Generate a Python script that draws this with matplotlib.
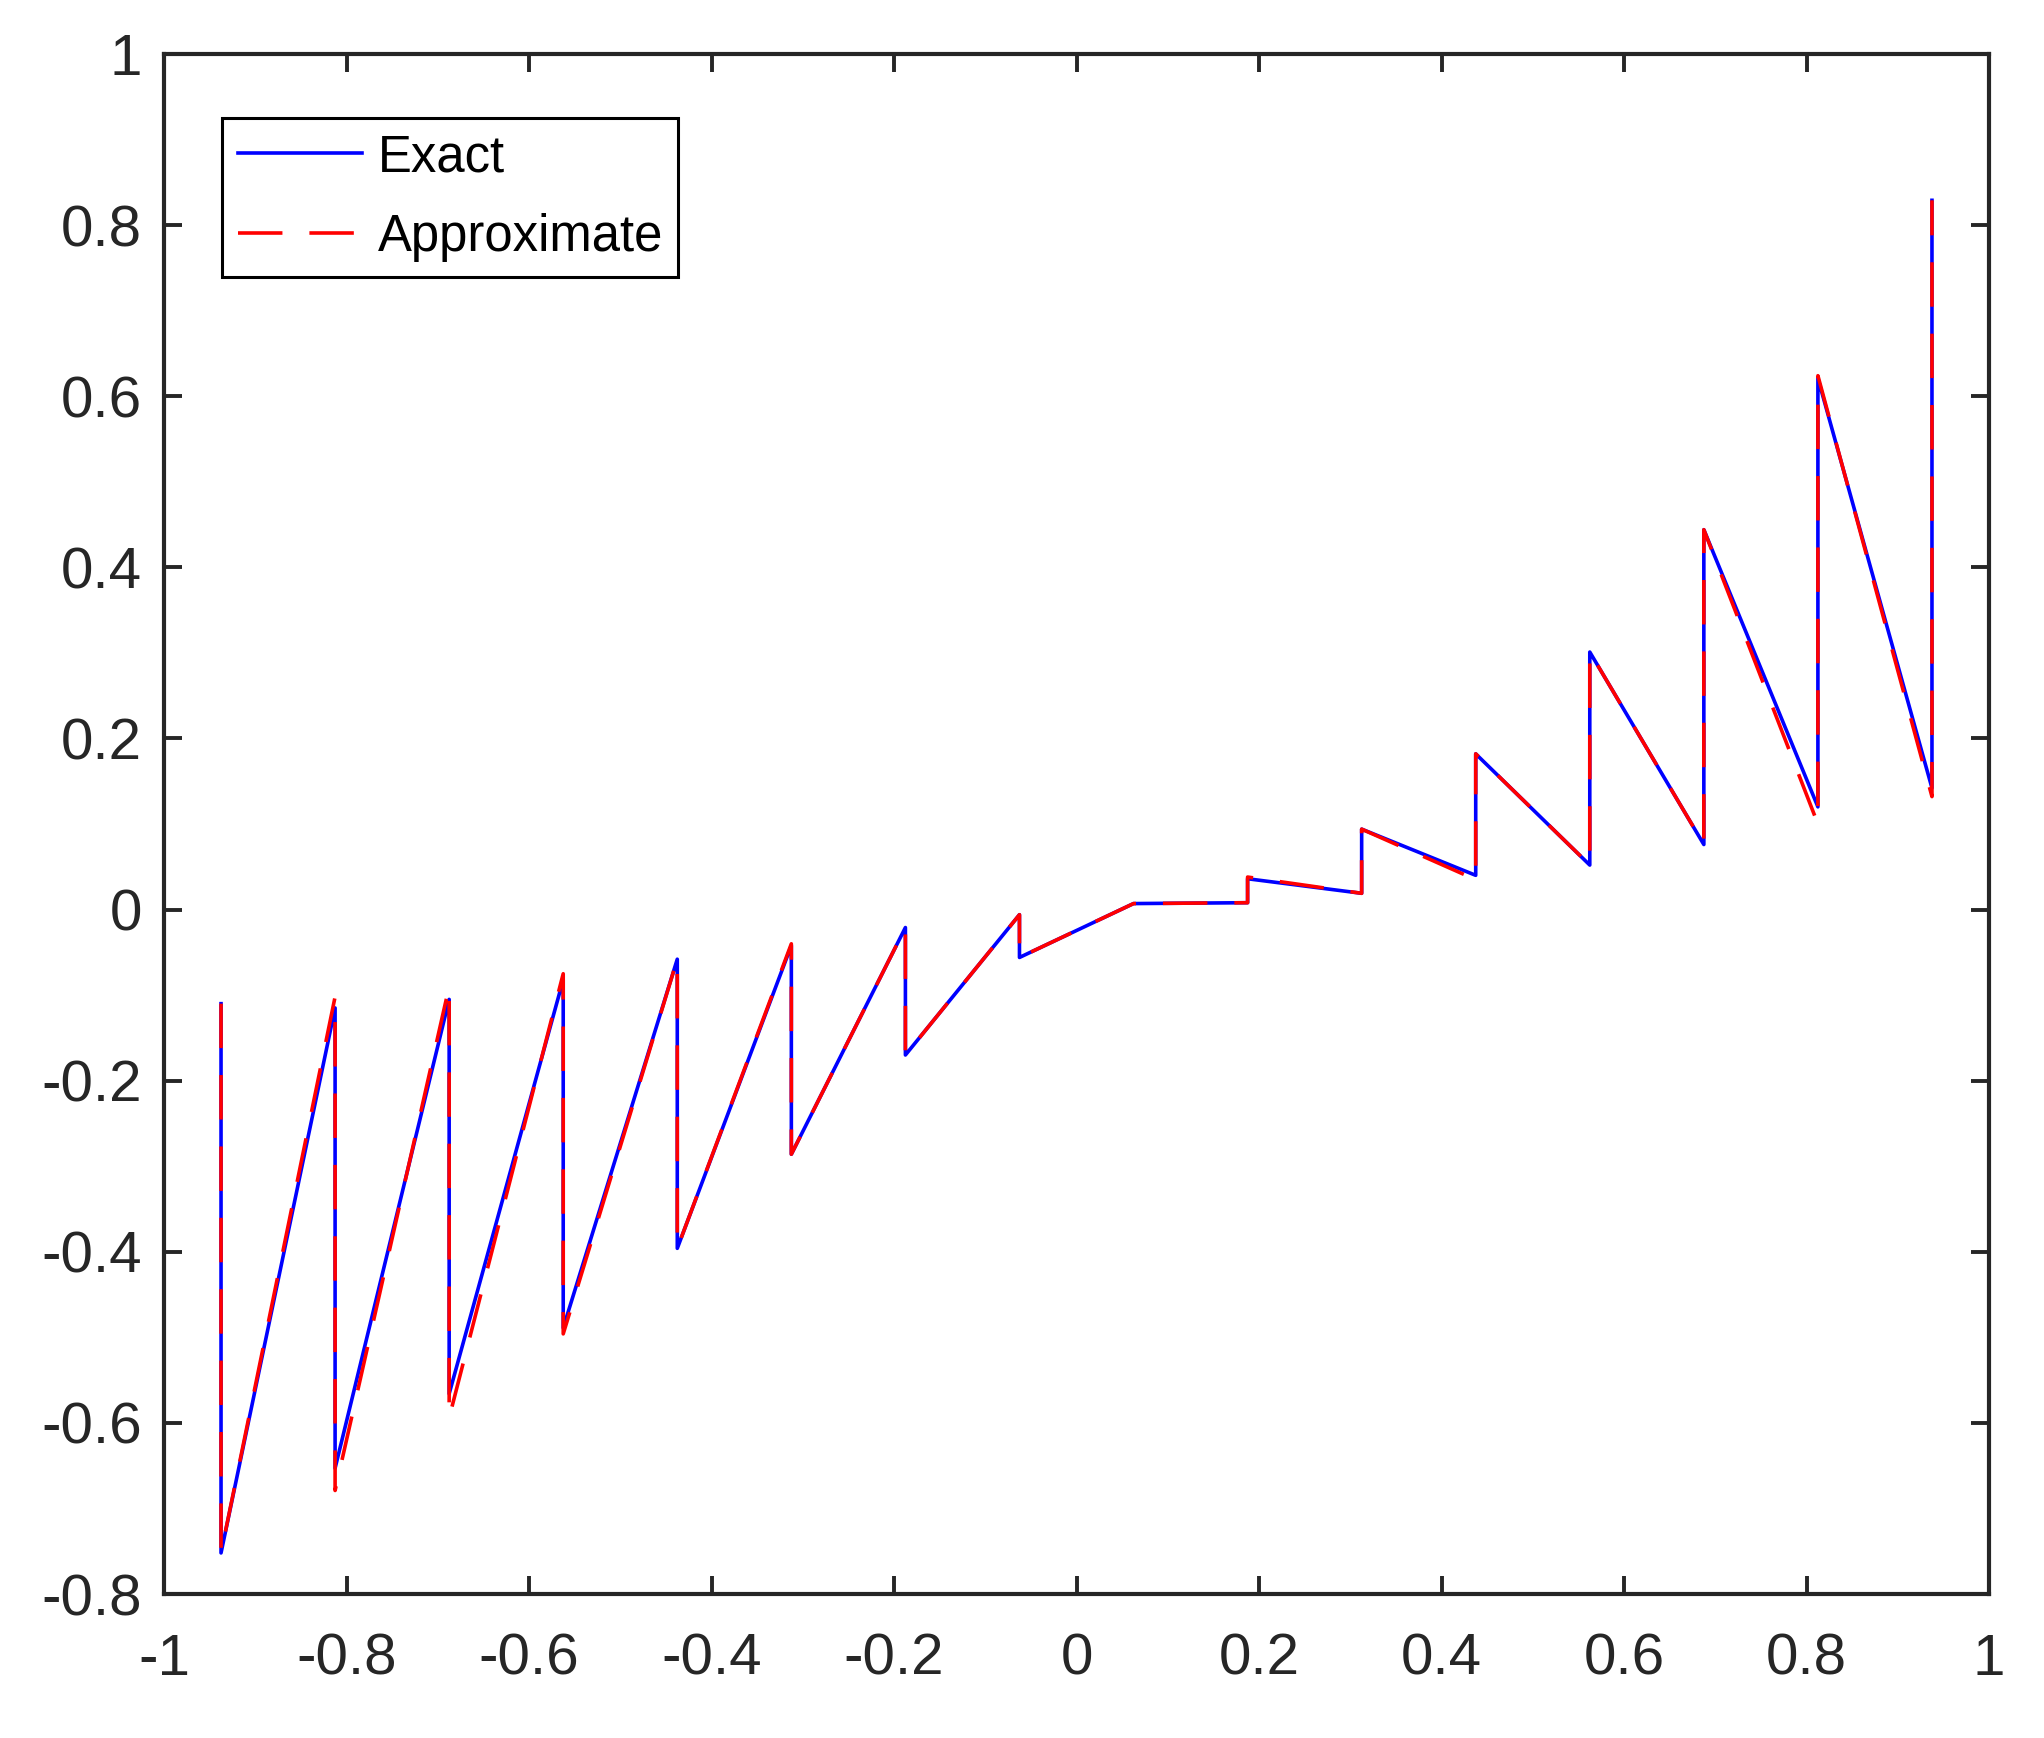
import matplotlib
matplotlib.use("Agg")
import matplotlib.pyplot as plt

plt.rcParams['font.family'] = ['Liberation Sans', 'DejaVu Sans']
plt.rcParams['axes.unicode_minus'] = False

# jump locations (odd multiples of 1/16) with left/right values
x_vals = [-15/16, -15/16, -13/16, -13/16, -11/16, -11/16, -9/16, -9/16,
          -7/16, -7/16, -5/16, -5/16, -3/16, -3/16, -1/16, -1/16,
          1/16, 3/16, 3/16, 5/16, 5/16, 7/16, 7/16, 9/16, 9/16,
          11/16, 11/16, 13/16, 13/16, 15/16, 15/16]

exact_vals = [-0.110, -0.752, -0.115, -0.653, -0.105, -0.566, -0.082, -0.489,
              -0.058, -0.396, -0.042, -0.286, -0.021, -0.170, -0.006, -0.056,
              0.007, 0.008, 0.036, 0.019, 0.094, 0.040, 0.182, 0.052, 0.301,
              0.076, 0.444, 0.120, 0.621, 0.142, 0.829]

approx_vals = [-0.110, -0.752, -0.102, -0.679, -0.090, -0.594, -0.075, -0.496,
               -0.058, -0.396, -0.040, -0.286, -0.021, -0.170, -0.006, -0.056,
               0.007, 0.008, 0.038, 0.019, 0.094, 0.035, 0.182, 0.052, 0.301,
               0.076, 0.444, 0.100, 0.624, 0.132, 0.829]

labels = ['Exact', 'Approximate']
xticks = [-1, -0.8, -0.6, -0.4, -0.2, 0, 0.2, 0.4, 0.6, 0.8, 1]
xticklabels = ['-1', '-0.8', '-0.6', '-0.4', '-0.2', '0', '0.2', '0.4', '0.6', '0.8', '1']
yticks = [-0.8, -0.6, -0.4, -0.2, 0, 0.2, 0.4, 0.6, 0.8, 1]
yticklabels = ['-0.8', '-0.6', '-0.4', '-0.2', '0', '0.2', '0.4', '0.6', '0.8', '1']

fig = plt.figure(figsize=(10.22, 8.69), dpi=200)
W, H = 2044, 1738
ax = fig.add_axes([164 / W, 1 - 1594 / H, (1989 - 164) / W, (1594 - 54) / H])

lw = 1.3
ax.plot(x_vals, exact_vals, color='#0000ff', lw=lw, label=labels[0])
ax.plot(x_vals, approx_vals, color='#ff0000', lw=lw, dashes=(16 / lw, 9.7 / lw), label=labels[1])

ax.set_xlim(-1, 1)
ax.set_ylim(-0.8, 1)
ax.set_xticks(xticks)
ax.set_xticklabels(xticklabels)
ax.set_yticks(yticks)
ax.set_yticklabels(yticklabels)

axcol = '#262626'
for s in ax.spines.values():
    s.set_color(axcol)
    s.set_linewidth(1.5)
ax.tick_params(axis='both', which='both', direction='in', top=True, right=True,
               length=6.5, width=1.4, color=axcol, labelcolor=axcol, labelsize=21)
ax.tick_params(axis='x', pad=14)
ax.tick_params(axis='y', pad=8)

leg = ax.legend(loc='upper left', bbox_to_anchor=(0.032, 0.9586), borderaxespad=0,
                fancybox=False, framealpha=1, edgecolor='black', fontsize=18.3,
                handlelength=2.45, handletextpad=0.3, borderpad=0.3, labelspacing=0.6)
leg.get_frame().set_linewidth(1.1)

fig.savefig('out.png', dpi=200, facecolor='white')
